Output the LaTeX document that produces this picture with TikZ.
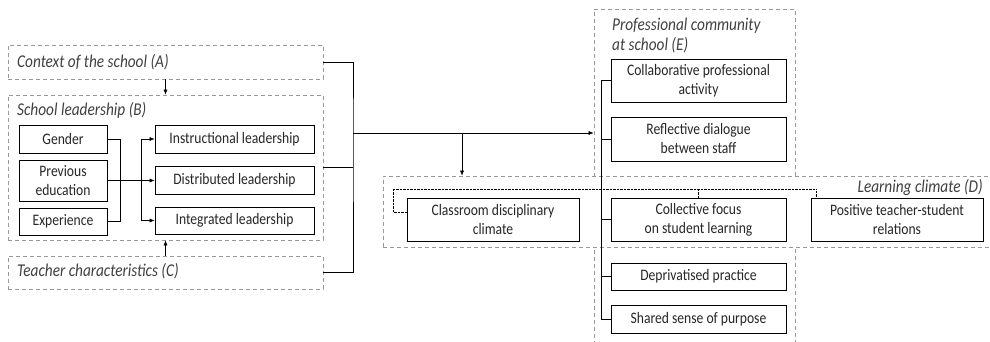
\documentclass[tikz,border=0pt]{standalone}
\usepackage{fontspec}
\setmainfont{Carlito}[FakeStretch=0.85]
\usetikzlibrary{arrows.meta}
\begin{document}
\begin{tikzpicture}[x=1pt, y=-1pt, font=\fontsize{16}{19}\selectfont, text=black!85,
        box/.style={draw, line width=0.9pt, align=center, inner sep=1pt},
        group/.style={draw=black!40, dash pattern=on 4pt off 3pt, line width=0.8pt},
        title/.style={font=\fontsize{18}{20}\selectfont\itshape, text=black!75, inner sep=0pt},
        >={Latex[length=5pt, width=4pt]}]
            \clip (0,0) rectangle (990,342);

            \node [group, minimum width=315pt, minimum height=34pt] (A) at (165.5,62) {};
            \node [group, minimum width=315pt, minimum height=145pt] (B) at (165.5,167.5) {};
            \node [group, minimum width=315pt, minimum height=33pt] (C) at (165.5,272.5) {};
            \node [group, minimum width=201pt, minimum height=351pt] (E) at (694.5,184.5) {};
            \node [group, fill=white, minimum width=617pt, minimum height=71pt] (D) at (691.5,211.5) {};

            \node [title, anchor=west] (tA) at (17,62) {Context of the school (A)};
            \node [title, anchor=west] (tB) at (17,110) {School leadership (B)};
            \node [title, anchor=west] (tC) at (17,271) {Teacher characteristics (C)};
            \node [title, anchor=west, align=left] (tE) at (612,35) {Professional community\\at school (E)};
            \node [title, anchor=east] (tD) at (983,187) {Learning climate (D)};

            \node [box, minimum width=88pt, minimum height=28pt] (gender) at (63,139) {Gender};
            \node [box, minimum width=88pt, minimum height=41pt] (prev) at (63,180.5) {Previous\\education};
            \node [box, minimum width=88pt, minimum height=27pt] (exper) at (63,221.5) {Experience};
            \node [box, minimum width=159pt, minimum height=28pt] (instr) at (234.5,139) {Instructional leadership};
            \node [box, minimum width=159pt, minimum height=28pt] (distr) at (234.5,180.5) {Distributed leadership};
            \node [box, minimum width=159pt, minimum height=27pt] (integ) at (234.5,220.5) {Integrated leadership};

            \node [box, minimum width=175pt, minimum height=43pt] (collab) at (698.5,80.5) {Collaborative professional\\activity};
            \node [box, minimum width=175pt, minimum height=44pt] (reflect) at (698.5,139) {Reflective dialogue\\between staff};
            \node [box, minimum width=175pt, minimum height=43pt] (focus) at (698.5,219.5) {Collective focus\\on student learning};
            \node [box, minimum width=175pt, minimum height=27pt] (depriv) at (698.5,276.5) {Deprivatised practice};
            \node [box, minimum width=175pt, minimum height=28pt] (shared) at (698.5,319) {Shared sense of purpose};
            \node [box, minimum width=172pt, minimum height=43pt] (classroom) at (493,219.5) {Classroom disciplinary\\climate};
            \node [box, minimum width=172pt, minimum height=43pt] (positive) at (897,219.5) {Positive teacher-student\\relations};

            \coordinate (fork) at (141,180.5);
            \coordinate (bus) at (353,133);
            \coordinate (drop) at (462,133);
            \coordinate (dots) at (393,189);

            \draw [->] (A) -- (B);
            \draw [->] (C) -- (B);
            \draw (gender.east) -- ++(13,0) |- (exper.east);
            \draw [->] (prev) -- (distr);
            \draw [->] (fork) |- (instr);
            \draw [->] (fork) |- (integ);

            \draw (A.east) -| (bus) |- (C.east);
            \draw (B.east) -- (B.east -| bus);
            \draw [->] (bus) -- (E.west |- bus);
            \draw [->] (drop) -- (drop |- D.north);

            \draw (collab.west) -- ++(-9,0) |- (shared.west);
            \foreach \n in {reflect, focus, depriv}
                \draw (\n.west) -- ++(-9,0);

            \draw [densely dotted] ([yshift=7.5pt]classroom.west) -| (dots) -| ([xshift=6pt]positive.north west);
            \draw [densely dotted] (focus.north) -- (focus.north |- dots);
        \end{tikzpicture}
\end{document}
